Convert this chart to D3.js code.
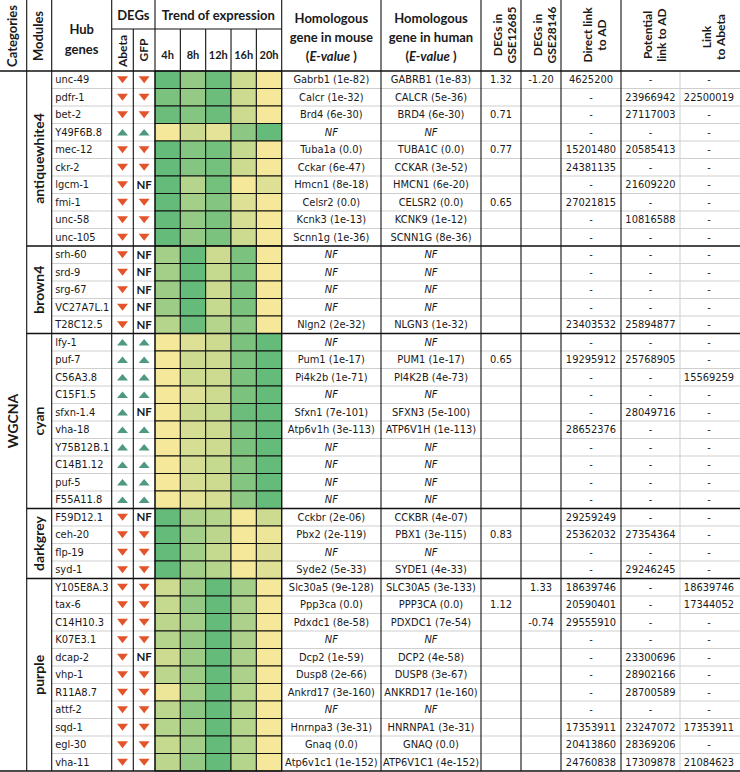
<!DOCTYPE html>
<html><head><meta charset="utf-8">
<script src="https://cdn.jsdelivr.net/npm/d3@7"></script>
<style>body{margin:0;background:#fff} svg{display:block}</style>
</head><body><svg id="c" width="740" height="772"></svg>
<script>
// ---------------- DATA ----------------
const timepoints = ["4h","8h","12h","16h","20h"];
const category = "WGCNA";
const moduleNames = ["antiquewhite4","brown4","cyan","darkgrey","purple"];
const moduleSizes = [10,5,10,4,11];
const hubGenes = ["unc-49","pdfr-1","bet-2","Y49F6B.8","mec-12","ckr-2","lgcm-1","fmi-1","unc-58","unc-105",
  "srh-60","srd-9","srg-67","VC27A7L.1","T28C12.5",
  "lfy-1","puf-7","C56A3.8","C15F1.5","sfxn-1.4","vha-18","Y75B12B.1","C14B1.12","puf-5","F55A11.8",
  "F59D12.1","ceh-20","flp-19","syd-1",
  "Y105E8A.3","tax-6","C14H10.3","K07E3.1","dcap-2","vhp-1","R11A8.7","attf-2","sqd-1","egl-30","vha-11"];
const abeta = ["down","down","down","up","down","down","down","down","down","down",
  "down","down","down","down","down",
  "up","up","up","up","up","up","up","up","up","up",
  "down","down","down","down",
  "down","down","down","down","down","down","down","down","down","down","down"];
const gfp = ["down","down","down","up","down","down","NF","down","down","down",
  "NF","NF","NF","NF","NF",
  "up","up","up","up","NF","up","up","up","up","up",
  "NF","down","down","down",
  "down","down","down","down","NF","down","down","down","down","down","down"];
// relative expression level per time point (0 = low/yellow, 1 = high/green)
const trend = [
  [0.95,0.65,0.90,0.30,0.05],[0.80,0.65,0.90,0.30,0.05],[0.90,0.75,0.90,0.30,0.05],[0.05,0.30,0.15,0.70,0.95],
  [0.95,0.75,0.85,0.35,0.05],[0.95,0.75,0.85,0.30,0.05],[0.95,0.45,0.85,0.05,0.20],[0.95,0.55,0.75,0.20,0.05],
  [0.95,0.65,0.80,0.25,0.05],[0.95,0.65,0.80,0.30,0.05],
  [0.55,0.95,0.30,0.80,0.05],[0.55,0.95,0.35,0.80,0.05],[0.60,0.95,0.30,0.80,0.05],[0.60,0.95,0.35,0.80,0.05],
  [0.45,0.90,0.45,0.70,0.05],
  [0.05,0.20,0.30,0.80,0.95],[0.05,0.30,0.30,0.80,0.95],[0.05,0.30,0.30,0.80,0.95],[0.05,0.20,0.30,0.80,0.95],
  [0.05,0.30,0.35,0.90,0.95],[0.05,0.25,0.30,0.80,0.95],[0.05,0.25,0.30,0.80,0.95],[0.05,0.25,0.35,0.75,0.95],
  [0.05,0.25,0.30,0.75,0.95],[0.05,0.15,0.25,0.70,0.95],
  [0.95,0.50,0.45,0.05,0.30],[0.95,0.55,0.40,0.05,0.10],[0.95,0.55,0.35,0.05,0.20],[0.95,0.55,0.45,0.05,0.20],
  [0.30,0.60,0.95,0.55,0.05],[0.35,0.65,0.95,0.50,0.05],[0.40,0.55,0.95,0.50,0.05],[0.45,0.65,0.95,0.50,0.05],
  [0.30,0.60,0.95,0.50,0.05],[0.40,0.60,0.95,0.50,0.05],[0.10,0.55,0.95,0.45,0.05],[0.40,0.70,0.95,0.45,0.05],
  [0.45,0.60,0.95,0.45,0.05],[0.35,0.55,0.95,0.45,0.05],[0.40,0.65,0.95,0.45,0.05]];
const mouseHomolog = ["Gabrb1 (1e-82)","Calcr (1e-32)","Brd4 (6e-30)","NF","Tuba1a (0.0)","Cckar (6e-47)","Hmcn1 (8e-18)","Celsr2 (0.0)","Kcnk3 (1e-13)","Scnn1g (1e-36)",
  "NF","NF","NF","NF","Nlgn2 (2e-32)",
  "NF","Pum1 (1e-17)","Pi4k2b (1e-71)","NF","Sfxn1 (7e-101)","Atp6v1h (3e-113)","NF","NF","NF","NF",
  "Cckbr (2e-06)","Pbx2 (2e-119)","NF","Syde2 (5e-33)",
  "Slc30a5 (9e-128)","Ppp3ca (0.0)","Pdxdc1 (8e-58)","NF","Dcp2 (1e-59)","Dusp8 (2e-66)","Ankrd17 (3e-160)","NF","Hnrnpa3 (3e-31)","Gnaq (0.0)","Atp6v1c1 (1e-152)"];
const humanHomolog = ["GABRB1 (1e-83)","CALCR (5e-36)","BRD4 (6e-30)","NF","TUBA1C (0.0)","CCKAR (3e-52)","HMCN1 (6e-20)","CELSR2 (0.0)","KCNK9 (1e-12)","SCNN1G (8e-36)",
  "NF","NF","NF","NF","NLGN3 (1e-32)",
  "NF","PUM1 (1e-17)","PI4K2B (4e-73)","NF","SFXN3 (5e-100)","ATP6V1H (1e-113)","NF","NF","NF","NF",
  "CCKBR (4e-07)","PBX1 (3e-115)","NF","SYDE1 (4e-33)",
  "SLC30A5 (3e-133)","PPP3CA (0.0)","PDXDC1 (7e-54)","NF","DCP2 (4e-58)","DUSP8 (3e-67)","ANKRD17 (1e-160)","NF","HNRNPA1 (3e-31)","GNAQ (0.0)","ATP6V1C1 (4e-152)"];
const gse12685 = ["1.32","","0.71","","0.77","","","0.65","","",
  "","","","","",
  "","0.65","","","","","","","","",
  "","0.83","","",
  "","1.12","","","","","","","","",""];
const gse28146 = ["-1.20","","","","","","","","","",
  "","","","","",
  "","","","","","","","","","",
  "","","","",
  "1.33","","-0.74","","","","","","","",""];
const directAD = ["4625200","-","-","-","15201480","24381135","-","27021815","-","-",
  "-","-","-","-","23403532",
  "-","19295912","-","-","-","28652376","-","-","-","-",
  "29259249","25362032","-","-",
  "18639746","20590401","29555910","-","-","-","-","-","17353911","20413860","24760838"];
const potentialAD = ["-","23966942","27117003","-","20585413","-","21609220","-","10816588","-",
  "-","-","-","-","25894877",
  "-","25768905","-","-","28049716","-","-","-","-","-",
  "-","27354364","-","29246245",
  "-","-","-","-","23300696","28902166","28700589","-","23247072","28369206","17309878"];
const linkAbeta = ["-","22500019","-","-","-","-","-","-","-","-",
  "-","-","-","-","-",
  "-","-","15569259","-","-","-","-","-","-","-",
  "-","-","-","-",
  "18639746","17344052","-","-","-","-","-","-","17353911","-","21084623"];

// ---------------- LAYOUT ----------------
const svg = d3.select("#c");
const W = 740, H = 772;
const headTop = 0, subHead = 29, rowTop = 71, rowBottom = 771;
const C = {cat:[0,26.7], mod:[26.7,51.7], hub:[51.7,111.7], abeta:[111.7,133.3], gfp:[133.3,155],
  heat:[155,281.7], mouse:[281.7,381], human:[381,481], g1:[481,521], g2:[521,561],
  direct:[561,621], pot:[621,680], link:[680,740]};
const mid = k => (C[k][0]+C[k][1])/2;
const n = hubGenes.length;
const y = d3.scaleBand().domain(d3.range(n)).range([rowTop,rowBottom]);
const xh = d3.scaleBand().domain(timepoints).range(C.heat);
const color = d3.scaleLinear().domain([0,1]).range(["#FDEA9C","#5CB878"]).interpolate(d3.interpolateRgb);
const bodyFont = "'DejaVu Sans', Verdana, sans-serif";
const headFont = "Lato, 'Open Sans', sans-serif";
const txt = "#1a1a1a";

// module boundaries (row indices)
const modStarts = []; let acc = 0;
moduleSizes.forEach(s => { modStarts.push(acc); acc += s; });

// light row separators
const rowLines = d3.range(1,n).filter(i => !modStarts.includes(i));
const gl = svg.append("g");
rowLines.forEach(i => {
  gl.append("line").attr("x1",C.hub[0]).attr("x2",W).attr("y1",y(i)).attr("y2",y(i))
    .attr("stroke","#cfcfcf").attr("stroke-width",1);
});
gl.append("line").attr("x1",C.pot[1]).attr("x2",C.pot[1]).attr("y1",rowTop).attr("y2",rowBottom)
  .attr("stroke","#cfcfcf");

// heatmap cells
const hm = svg.append("g");
trend.forEach((row,i) => {
  row.forEach((v,j) => {
    hm.append("rect").attr("x",xh(timepoints[j])).attr("y",y(i))
      .attr("width",xh.bandwidth()).attr("height",y.bandwidth())
      .attr("fill",color(v)).attr("stroke","#111").attr("stroke-width",1);
  });
});

// black structural lines
const L = svg.append("g").attr("stroke","#111").attr("stroke-width",1.1);
const vline = (x,y1,y2,w) => L.append("line").attr("x1",x).attr("x2",x).attr("y1",y1).attr("y2",y2).attr("stroke-width",w||1.1);
const hline = (y0,x1,x2,w) => L.append("line").attr("x1",x1).attr("x2",x2).attr("y1",y0).attr("y2",y0).attr("stroke-width",w||1.1);
[C.mod[0],C.hub[0],C.abeta[0],C.heat[0],C.heat[1],C.human[0],C.g1[0],C.g2[0],C.direct[0],C.pot[0]]
  .forEach(x => vline(x,headTop,rowBottom));
vline(C.gfp[0],subHead,rowBottom);
timepoints.slice(1).forEach(t => vline(xh(t),subHead,rowTop));
hline(subHead,C.abeta[0],C.heat[1]);
hline(rowTop,0,W,1.6);
hline(rowBottom,0,W,1.6);
modStarts.slice(1).forEach(i => hline(y(i),C.mod[0],W,1.3));

// ---------------- HEADER TEXT ----------------
const hd = svg.append("g").attr("font-family",headFont).attr("font-weight","bold").attr("fill",txt);
const rot = (x,yc,lines,size,gap) => {
  const g = hd.append("text").attr("transform",`translate(${x},${yc}) rotate(-90)`)
    .attr("text-anchor","middle").attr("font-size",size);
  lines.forEach((l,k) => g.append("tspan").attr("x",0).attr("dy",k===0?0:gap).text(l));
};
rot(17,36,["Categories"],13,0);
rot(43,36,["Modules"],13,0);
hd.append("text").attr("x",mid("hub")).attr("y",34).attr("text-anchor","middle").attr("font-size",13).text("Hub");
hd.append("text").attr("x",mid("hub")).attr("y",54).attr("text-anchor","middle").attr("font-size",13).text("genes");
hd.append("text").attr("x",(C.abeta[0]+C.gfp[1])/2).attr("y",20).attr("text-anchor","middle").attr("font-size",13).text("DEGs");
hd.append("text").attr("x",mid("heat")).attr("y",20).attr("text-anchor","middle").attr("font-size",13).text("Trend of expression");
rot(mid("abeta")+4,51,["Abeta"],12,0);
rot(mid("gfp")+4,50,["GFP"],12,0);
timepoints.forEach(t => hd.append("text").attr("x",xh(t)+xh.bandwidth()/2).attr("y",59)
  .attr("text-anchor","middle").attr("font-size",11).text(t));
["mouse","human"].forEach(k => {
  hd.append("text").attr("x",mid(k)).attr("y",23).attr("text-anchor","middle").attr("font-size",13).text("Homologous");
  hd.append("text").attr("x",mid(k)).attr("y",42).attr("text-anchor","middle").attr("font-size",13).text("gene in " + k);
  const t = hd.append("text").attr("x",mid(k)).attr("y",61).attr("text-anchor","middle").attr("font-size",13);
  t.append("tspan").text("(");
  t.append("tspan").attr("font-style","italic").text("E-value");
  t.append("tspan").text(" )");
});
rot(mid("g1")+1,35,["DEGs in","GSE12685"],12,14);
rot(mid("g2")+1,35,["DEGs in","GSE28146"],12,14);
rot(mid("direct")+1,35,["Direct link","to AD"],12,14);
rot(mid("pot")+1,35,["Potential","link to AD"],12,14);
rot(mid("link")+1,37,["Link","to Abeta"],12,14);

// ---------------- BODY ----------------
hd.append("text").attr("transform",`translate(${mid("cat")+5},${(rowTop+rowBottom)/2}) rotate(-90)`)
  .attr("text-anchor","middle").attr("font-size",14).text(category);
moduleNames.forEach((m,k) => {
  const y0 = y(modStarts[k]), y1 = y(modStarts[k]+moduleSizes[k]-1)+y.bandwidth();
  hd.append("text").attr("transform",`translate(${mid("mod")+5},${(y0+y1)/2}) rotate(-90)`)
    .attr("text-anchor","middle").attr("font-size",14).text(m);
});

const body = svg.append("g").attr("font-family",bodyFont).attr("fill",txt).attr("font-size",9.9);
const cy = i => y(i)+y.bandwidth()/2+3.5;
hubGenes.forEach((g,i) => body.append("text").attr("x",C.hub[0]+3.5).attr("y",cy(i)).text(g));

// DEG arrows
const down = "M-5.5,-3.6 L5.5,-3.6 L0,3.6 Z";
const up = "M-5.5,3.2 L5.5,3.2 L0,-3.2 Z";
const deg = (arr,key) => arr.forEach((d,i) => {
  const x = mid(key), yc = y(i)+y.bandwidth()/2;
  if (d === "NF") {
    svg.append("text").attr("x",x).attr("y",yc+4).attr("text-anchor","middle")
      .attr("font-family",headFont).attr("font-weight","bold").attr("font-size",11.5).attr("fill",txt).text("NF");
  } else {
    svg.append("path").attr("d",d==="down"?down:up).attr("transform",`translate(${x},${yc})`)
      .attr("fill",d==="down"?"#E4542B":"#4F9A7E");
  }
});
deg(abeta,"abeta"); deg(gfp,"gfp");

const homo = (arr,key) => arr.forEach((s,i) => {
  const t = body.append("text").attr("x",mid(key)).attr("y",cy(i)).attr("text-anchor","middle");
  if (s === "NF") t.attr("font-style","italic").text("NF"); else t.text(s);
});
homo(mouseHomolog,"mouse"); homo(humanHomolog,"human");

const plain = (arr,key,dx) => arr.forEach((s,i) => {
  if (s) body.append("text").attr("x",mid(key)+(dx||0)).attr("y",cy(i)).attr("text-anchor","middle").text(s);
});
plain(gse12685,"g1"); plain(gse28146,"g2");
plain(directAD,"direct"); plain(potentialAD,"pot"); plain(linkAbeta,"link",-1);
</script></body></html>
